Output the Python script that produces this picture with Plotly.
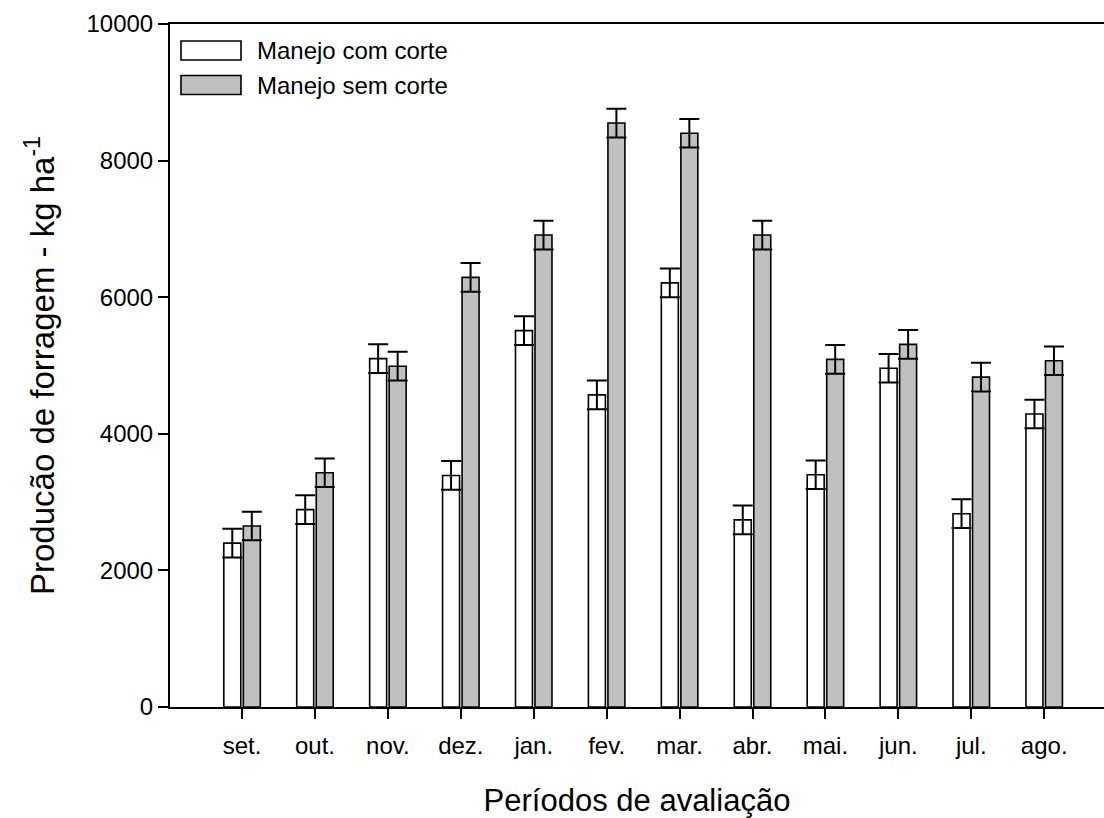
import plotly.graph_objects as go

months = ["set.", "out.", "nov.", "dez.", "jan.", "fev.", "mar.", "abr.", "mai.", "jun.", "jul.", "ago."]
com_corte = [2400, 2890, 5100, 3390, 5510, 4570, 6210, 2740, 3400, 4960, 2830, 4290]
sem_corte = [2650, 3430, 4990, 6290, 6910, 8550, 8400, 6910, 5090, 5310, 4830, 5070]
err_com = [210, 210, 210, 210, 210, 210, 210, 210, 210, 210, 210, 210]
err_sem = [210, 210, 210, 210, 210, 210, 210, 210, 210, 210, 210, 210]
names = ["Manejo com corte", "Manejo sem corte"]
colors = ["#ffffff", "#c0c0c0"]
yticks = [0, 2000, 4000, 6000, 8000, 10000]
yticklabels = ["0", "2000", "4000", "6000", "8000", "10000"]

FONT = "Liberation Sans, Arial, sans-serif"

fig = go.Figure()
for vals, errs, name, col in [(com_corte, err_com, names[0], colors[0]),
                              (sem_corte, err_sem, names[1], colors[1])]:
    fig.add_trace(go.Bar(
        x=months, y=vals, name=name,
        marker=dict(color=col, line=dict(color="black", width=1.6)),
        error_y=dict(type="data", array=errs, visible=True, color="black",
                     thickness=2, width=10),
        showlegend=False,
    ))

W, H = 1104, 818
L, R, T, B = 170, 0, 24, 111
pw, ph = W - L - R, H - T - B

def px(xp):
    return (xp - L) / pw

def py(yp):
    return (H - B - yp) / ph

# legend drawn as boxes + text
shapes = []
annots = []
for i, (name, col) in enumerate(zip(names, colors)):
    top = 41 + i * 34.5
    shapes.append(dict(type="rect", xref="paper", yref="paper",
                       x0=px(181), x1=px(241), y0=py(top + 19), y1=py(top),
                       fillcolor=col, line=dict(color="black", width=1.6)))
    annots.append(dict(xref="paper", yref="paper", x=px(255), y=py(top + 9.5),
                       xanchor="left", yanchor="middle", text=name, showarrow=False,
                       font=dict(family=FONT, size=24, color="black")))

fig.update_layout(
    width=W, height=H,
    margin=dict(l=L, r=R, t=T, b=B, pad=0),
    paper_bgcolor="white", plot_bgcolor="white",
    barmode="group", bargap=0.465, bargroupgap=0.13,
    font=dict(family=FONT, color="black"),
    shapes=shapes, annotations=annots,
    xaxis=dict(
        type="category", range=[-0.988, 11.82],
        showline=True, linecolor="black", linewidth=2, mirror=True,
        ticks="outside", ticklen=10, tickwidth=1.6, tickcolor="black",
        tickfont=dict(family=FONT, size=24, color="black"),
        ticklabelstandoff=6,
        showgrid=False, zeroline=False,
        title=dict(text="Períodos de avaliação", font=dict(family=FONT, size=31, color="black"), standoff=34),
    ),
    yaxis=dict(
        range=[0, 10000], tickvals=yticks, ticktext=yticklabels,
        showline=True, linecolor="black", linewidth=2,
        ticks="outside", ticklen=10, tickwidth=1.6, tickcolor="black",
        tickfont=dict(family=FONT, size=24, color="black"),
        showgrid=False, zeroline=False,
        title=dict(text="Producão de forragem - kg ha<sup>-1</sup>", font=dict(family=FONT, size=33, color="black"), standoff=22),
    ),
)

fig.write_html("out.html")
